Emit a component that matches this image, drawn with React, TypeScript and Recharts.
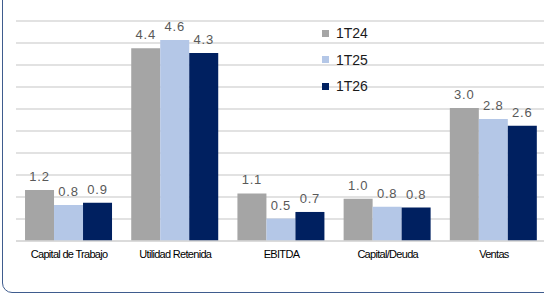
import { Bar, BarChart, CartesianGrid, LabelList, XAxis, YAxis } from "recharts";

const categories = ["Capital de Trabajo", "Utilidad Retenida", "EBITDA", "Capital/Deuda", "Ventas"];
const serie1T24 = [1.16, 4.38, 1.08, 0.96, 3.02];
const serie1T25 = [0.82, 4.57, 0.51, 0.78, 2.77];
const serie1T26 = [0.87, 4.27, 0.66, 0.76, 2.62];
const yTicks = [0, 0.5, 1, 1.5, 2, 2.5, 3, 3.5, 4, 4.5, 5];

const series = [
  { key: "t24", name: "1T24", color: "#A5A5A5" },
  { key: "t25", name: "1T25", color: "#B4C7E7" },
  { key: "t26", name: "1T26", color: "#002060" },
];

const data = categories.map((name, i) => ({
  name,
  t24: serie1T24[i],
  t25: serie1T25[i],
  t26: serie1T26[i],
}));

function ChartLegend() {
  return (
    <div
      style={{
        position: "absolute",
        left: 322,
        top: 20,
        fontFamily: "Liberation Sans, Arial, sans-serif",
        fontSize: 14,
        color: "#1a1a1a",
      }}
    >
      {series.map((s) => (
        <div key={s.key} style={{ display: "flex", alignItems: "center", height: 26.5 }}>
          <span style={{ width: 7, height: 7, background: s.color, marginRight: 7 }} />
          <span>{s.name}</span>
        </div>
      ))}
    </div>
  );
}

function CategoryTick({ x, y, payload }: any) {
  return (
    <text
      x={x}
      y={y}
      dy={9}
      textAnchor="middle"
      fontSize={11}
      letterSpacing={-0.7}
      fill="#000"
      fontFamily="'Liberation Sans', Arial, sans-serif"
    >
      {payload.value}
    </text>
  );
}

// y ticks stay in place for the grid, but draw nothing
const EmptyTick = () => <g />;

export default function App() {
  return (
    <div
      style={{
        position: "absolute",
        left: 0,
        top: 0,
        width: 544,
        height: 295,
        overflow: "hidden",
        background: "#fff",
      }}
    >
      <div
        style={{
          position: "absolute",
          left: 2,
          top: -20,
          width: 700,
          height: 313,
          border: "1.5px solid #3F5C8E",
          borderRadius: 10,
          boxSizing: "border-box",
        }}
      />
      <div style={{ position: "absolute", left: 0, top: 0 }}>
        <BarChart
          width={560}
          height={295}
          data={data}
          margin={{ top: 21, right: 13, left: 16, bottom: 24 }}
          barCategoryGap="8.5%"
          barGap={0}
        >
          <CartesianGrid horizontal vertical={false} stroke="#D9D9D9" strokeWidth={1.3} />
          <XAxis
            dataKey="name"
            height={30}
            axisLine={{ stroke: "#D9D9D9", strokeWidth: 1.3 }}
            tickLine={false}
            tick={<CategoryTick />}
            interval={0}
          />
          <YAxis
            width={0}
            domain={[0, 5]}
            ticks={yTicks}
            interval={0}
            tick={EmptyTick}
            axisLine={false}
            tickLine={false}
          />
          {series.map((s) => (
            <Bar key={s.key} dataKey={s.key} name={s.name} fill={s.color} isAnimationActive={false}>
              <LabelList
                dataKey={s.key}
                position="top"
                offset={9}
                fontSize={13}
                fill="#595959"
                letterSpacing={0.8}
                fontFamily="'Liberation Sans', Arial, sans-serif"
                formatter={(v: any) => Number(v).toFixed(1)}
              />
            </Bar>
          ))}
        </BarChart>
      </div>
      <ChartLegend />
    </div>
  );
}
